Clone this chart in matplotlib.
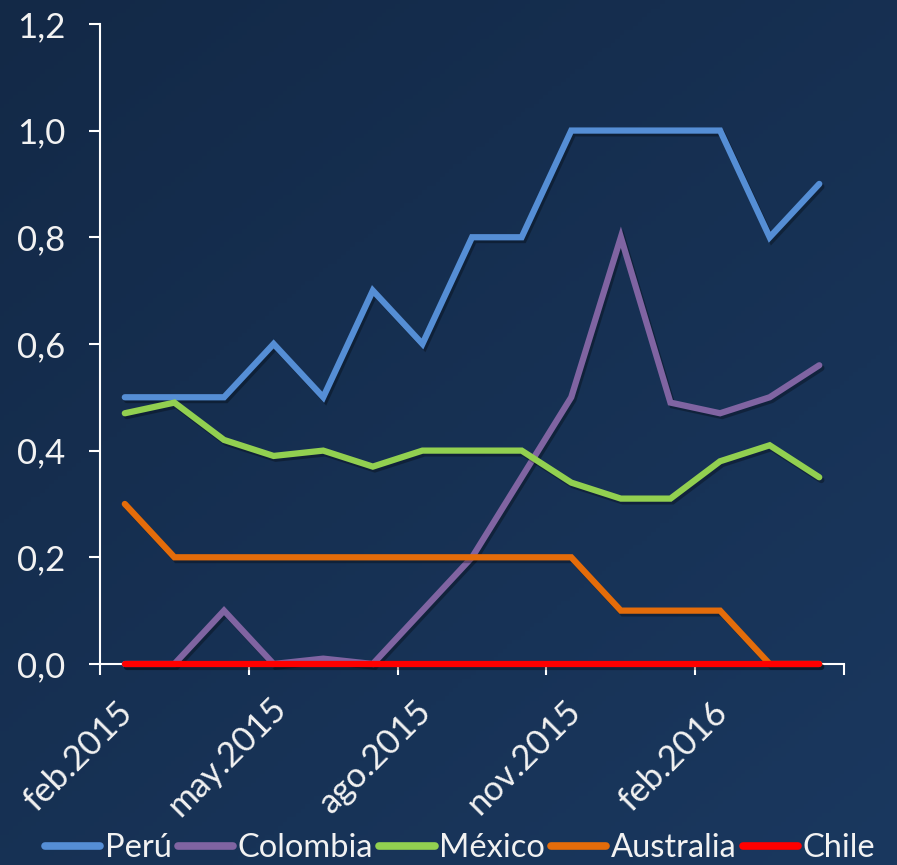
import matplotlib.pyplot as plt
import matplotlib.patheffects as pe
import matplotlib.transforms as mtransforms
import numpy as np
from matplotlib.ticker import FuncFormatter

plt.rcParams['font.family'] = ['Lato', 'DejaVu Sans']

MONTHS = ['feb.2015', 'mar.2015', 'abr.2015', 'may.2015', 'jun.2015', 'jul.2015',
          'ago.2015', 'sep.2015', 'oct.2015', 'nov.2015', 'dic.2015', 'ene.2016',
          'feb.2016', 'mar.2016', 'abr.2016']

peru = [0.5, 0.5, 0.5, 0.6, 0.5, 0.7, 0.6, 0.8, 0.8, 1.0, 1.0, 1.0, 1.0, 0.8, 0.9]
colombia = [0.0, 0.0, 0.1, 0.0, 0.01, 0.0, 0.1, 0.2, 0.35, 0.5, 0.8, 0.49, 0.47, 0.5, 0.56]
mexico = [0.47, 0.49, 0.42, 0.39, 0.40, 0.37, 0.40, 0.40, 0.40, 0.34, 0.31, 0.31, 0.38, 0.41, 0.35]
australia = [0.3, 0.2, 0.2, 0.2, 0.2, 0.2, 0.2, 0.2, 0.2, 0.2, 0.1, 0.1, 0.1, 0.0, 0.0]
chile = [0.0] * 15

SERIES = [
    ("Perú", peru, "#558ED5"),
    ("Colombia", colombia, "#8064A2"),
    ("México", mexico, "#92D050"),
    ("Australia", australia, "#E46C0A"),
    ("Chile", chile, "#FF0000"),
]

fig = plt.figure(figsize=(8.97, 8.65), dpi=100)

# background gradient
bg = fig.add_axes([0, 0, 1, 1], zorder=-10)
yy, xx = np.mgrid[0:1:200j, 0:1:200j]
grad = 0.55 * yy + 0.45 * xx
top = np.array([0x13, 0x29, 0x47]) / 255
bot = np.array([0x1a, 0x38, 0x5f]) / 255
img = top + (bot - top) * grad[..., None]
bg.imshow(img, extent=[0, 1, 0, 1], aspect='auto', origin='upper')
bg.axis('off')

ax = fig.add_axes([0.1115, 0.2324, 0.8295, 0.740])
ax.set_facecolor('none')

x = np.arange(len(MONTHS)) + 0.5
shadow = [pe.SimpleLineShadow(offset=(1.5, -2), shadow_color='black', alpha=0.3), pe.Normal()]
for name, vals, col in SERIES:
    ax.plot(x, vals, color=col, lw=4.5, label=name, solid_capstyle='round',
            solid_joinstyle='miter', path_effects=shadow, clip_on=False, zorder=3)

ax.set_xlim(0, 15)
ax.set_ylim(0, 1.2)
ax.set_yticks(np.arange(0, 1.21, 0.2))
ax.yaxis.set_major_formatter(FuncFormatter(lambda v, p: f"{v:.1f}".replace('.', ',')))
ax.set_xticks([0, 3, 6, 9, 12, 15])
ax.set_xticklabels([MONTHS[0], MONTHS[3], MONTHS[6], MONTHS[9], MONTHS[12], ''],
                   rotation=45, ha='center', va='center', rotation_mode='anchor')

for s in ['top', 'right']:
    ax.spines[s].set_visible(False)
for s in ['left', 'bottom']:
    ax.spines[s].set_color('white')
    ax.spines[s].set_linewidth(1.5)

ax.tick_params(axis='both', colors='white', length=8, width=1.5, labelsize=25,
               labelcolor='#F2F2F2')
ax.tick_params(axis='y', pad=17)
ax.tick_params(axis='x', pad=59)

offset = mtransforms.ScaledTranslation(-22 / 100, 0, fig.dpi_scale_trans)
for lab in ax.get_xticklabels():
    lab.set_transform(lab.get_transform() + offset)

leg = fig.legend(loc='lower center', bbox_to_anchor=(0.513, -0.017), ncol=5, frameon=False,
                 fontsize=23.5, handlelength=1.7, handletextpad=0.15, columnspacing=0.17,
                 borderaxespad=0.1, labelcolor='#F2F2F2')
for h in leg.get_lines():
    h.set_linewidth(5.5)
    h.set_path_effects([])

fig.savefig('out.png', dpi=100)
